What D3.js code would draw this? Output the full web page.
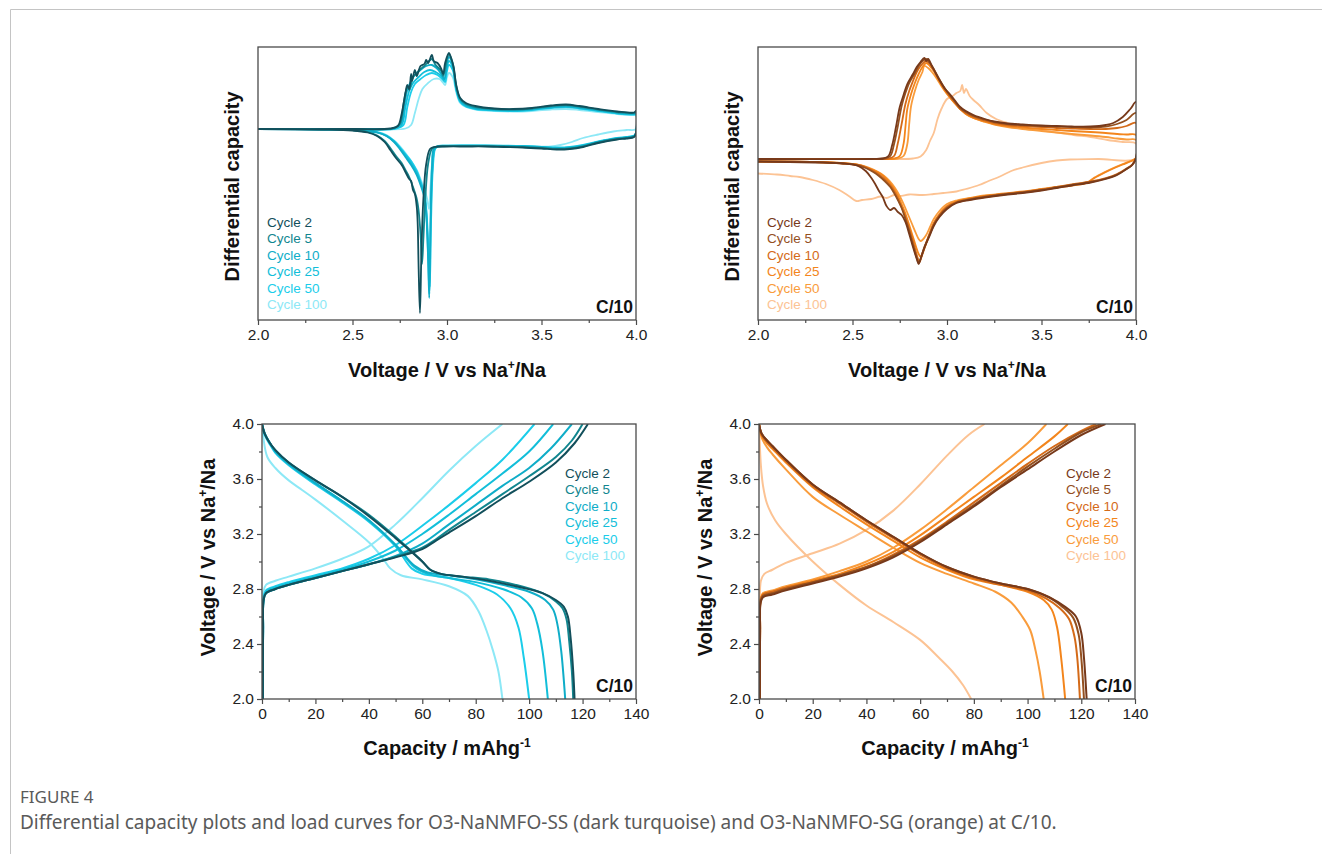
<html>
<head>
  <title>Figure 4</title>
  <script src="https://d3js.org/d3.v7.min.js"></script>
  <style type="text/css">
  body { margin: 0; background: #fff; }
  text { font-family: "Liberation Sans", Arial, sans-serif; }
  .caption { font-family: "Noto Sans", sans-serif; fill: #5a5a5a; }
  </style>
</head>
<body>
<div id="viz"></div>
<script type="text/javascript">

const cycles = ["Cycle 2", "Cycle 5", "Cycle 10", "Cycle 25", "Cycle 50", "Cycle 100"];
const ssColors = ["#124f5b", "#11868f", "#0fadc8", "#12bed9", "#1bcdea", "#8de8f6"];
const sgColors = ["#77391a", "#94501f", "#d46a18", "#f3851c", "#f99c3c", "#fcc394"];

const voltTicks = [2.0, 2.5, 3.0, 3.5, 4.0];
const voltMinor = [2.25, 2.75, 3.25, 3.75];
const capTicks = [0, 20, 40, 60, 80, 100, 120, 140];
const capMinor = [10, 30, 50, 70, 90, 110, 130];
const loadTicks = [2.0, 2.4, 2.8, 3.2, 3.6, 4.0];
const loadMinor = [2.2, 2.6, 3.0, 3.4, 3.8];

// dQ/dV, arbitrary units, [V, dQ/dV]
const ssDqCharge = [
  [[2.0,0],[2.5,0],[2.70,0.05],[2.74,0.3],[2.76,1.5],[2.78,3.6],[2.79,4.4],[2.80,4.0],[2.81,5.5],[2.815,4.8],[2.83,5.9],[2.84,5.3],[2.86,6.3],[2.88,6.5],[2.89,6.9],[2.90,6.6],[2.92,7.4],[2.93,6.8],[2.95,6.6],[2.97,6.0],[2.98,5.5],[2.99,6.6],[3.01,7.6],[3.02,7.2],[3.035,6.2],[3.05,4.3],[3.07,3.1],[3.10,2.6],[3.15,2.3],[3.25,2.05],[3.35,2.0],[3.45,2.1],[3.55,2.35],[3.63,2.45],[3.70,2.3],[3.80,2.0],[3.90,1.75],[3.99,1.65],[4.0,1.8]],
  [[2.0,0],[2.5,0],[2.71,0.05],[2.75,0.5],[2.77,2.5],[2.79,4.2],[2.80,3.9],[2.82,5.2],[2.84,5.6],[2.86,6.0],[2.88,6.3],[2.90,6.7],[2.92,7.0],[2.94,6.4],[2.97,5.8],[2.98,5.3],[3.00,7.0],[3.01,7.5],[3.03,6.6],[3.05,4.2],[3.07,3.0],[3.10,2.5],[3.15,2.2],[3.25,2.0],[3.35,1.95],[3.45,2.05],[3.55,2.3],[3.63,2.4],[3.70,2.25],[3.80,1.95],[3.90,1.7],[3.99,1.6],[4.0,1.7]],
  [[2.0,0],[2.5,0],[2.72,0.05],[2.755,0.5],[2.775,2.4],[2.79,3.9],[2.81,4.8],[2.83,5.4],[2.86,5.9],[2.89,6.3],[2.92,6.4],[2.95,6.0],[2.97,5.5],[2.985,5.0],[3.00,6.6],[3.01,7.2],[3.03,6.4],[3.05,4.0],[3.07,2.9],[3.10,2.4],[3.15,2.1],[3.25,1.95],[3.35,1.9],[3.45,2.0],[3.55,2.2],[3.63,2.3],[3.70,2.15],[3.80,1.9],[3.90,1.65],[3.99,1.55],[4.0,1.6]],
  [[2.0,0],[2.5,0],[2.72,0.05],[2.76,0.4],[2.78,2.2],[2.80,3.8],[2.82,4.6],[2.85,5.2],[2.88,5.7],[2.91,5.9],[2.94,5.7],[2.97,5.3],[2.985,4.9],[3.00,6.2],[3.01,6.8],[3.03,6.2],[3.05,3.9],[3.07,2.8],[3.10,2.3],[3.15,2.05],[3.25,1.9],[3.35,1.85],[3.45,1.95],[3.55,2.15],[3.63,2.25],[3.70,2.1],[3.80,1.85],[3.90,1.6],[3.99,1.5],[4.0,1.55]],
  [[2.0,0],[2.5,0],[2.73,0.05],[2.77,0.4],[2.79,2.2],[2.81,3.7],[2.83,4.5],[2.86,5.0],[2.89,5.4],[2.92,5.6],[2.95,5.4],[2.975,5.0],[2.99,4.7],[3.00,5.8],[3.01,6.4],[3.03,5.9],[3.05,3.8],[3.07,2.7],[3.10,2.25],[3.15,2.0],[3.25,1.85],[3.35,1.8],[3.45,1.9],[3.55,2.1],[3.63,2.2],[3.70,2.05],[3.80,1.8],[3.90,1.55],[3.99,1.45],[4.0,1.5]],
  [[2.0,0],[2.6,0],[2.78,0.05],[2.81,0.4],[2.83,1.6],[2.85,3.0],[2.87,4.0],[2.90,4.6],[2.93,5.0],[2.96,5.0],[2.98,4.6],[2.99,4.4],[3.00,5.2],[3.01,5.6],[3.03,5.2],[3.05,3.6],[3.07,2.6],[3.10,2.2],[3.15,1.95],[3.25,1.8],[3.35,1.75],[3.45,1.8],[3.55,1.95],[3.63,2.0],[3.70,1.9],[3.80,1.7],[3.90,1.5],[3.99,1.4],[4.0,1.4]]
];
const ssDqDischarge = [
  [[4.0,-0.4],[3.99,-0.8],[3.95,-0.95],[3.90,-1.05],[3.80,-1.4],[3.72,-1.8],[3.65,-2.0],[3.58,-2.05],[3.50,-1.95],[3.40,-1.85],[3.30,-1.8],[3.20,-1.75],[3.10,-1.75],[3.00,-1.75],[2.93,-1.8],[2.91,-2.0],[2.89,-3.5],[2.875,-7.0],[2.865,-12],[2.857,-18.4],[2.85,-14],[2.845,-9.5],[2.84,-7.8],[2.83,-6.5],[2.82,-6.1],[2.81,-5.2],[2.80,-5.0],[2.78,-4.3],[2.76,-3.6],[2.73,-2.9],[2.70,-2.1],[2.67,-1.3],[2.63,-0.7],[2.58,-0.35],[2.50,-0.15],[2.35,-0.05],[2.0,0]],
  [[4.0,-0.4],[3.99,-0.75],[3.95,-0.9],[3.90,-1.0],[3.80,-1.35],[3.72,-1.75],[3.65,-1.95],[3.58,-2.0],[3.50,-1.9],[3.40,-1.8],[3.30,-1.75],[3.20,-1.72],[3.10,-1.72],[3.00,-1.72],[2.94,-1.78],[2.92,-2.0],[2.90,-3.5],[2.885,-7],[2.875,-11],[2.868,-13.5],[2.86,-10.5],[2.85,-8.2],[2.84,-7.0],[2.82,-5.8],[2.80,-4.8],[2.78,-4.1],[2.76,-3.4],[2.73,-2.7],[2.70,-1.9],[2.67,-1.2],[2.63,-0.65],[2.58,-0.3],[2.50,-0.12],[2.35,-0.05],[2.0,0]],
  [[4.0,-0.4],[3.99,-0.7],[3.95,-0.85],[3.90,-0.95],[3.80,-1.3],[3.72,-1.7],[3.65,-1.9],[3.58,-1.95],[3.50,-1.85],[3.40,-1.75],[3.30,-1.7],[3.20,-1.68],[3.10,-1.68],[3.00,-1.7],[2.95,-1.75],[2.93,-2.0],[2.92,-4.0],[2.913,-9],[2.906,-16.9],[2.90,-13],[2.89,-8.5],[2.88,-6.8],[2.86,-5.6],[2.84,-4.6],[2.81,-3.6],[2.78,-2.8],[2.75,-2.0],[2.72,-1.3],[2.68,-0.7],[2.63,-0.35],[2.55,-0.15],[2.40,-0.05],[2.0,0]],
  [[4.0,-0.4],[3.99,-0.7],[3.95,-0.85],[3.90,-0.95],[3.80,-1.3],[3.72,-1.65],[3.65,-1.85],[3.58,-1.9],[3.50,-1.8],[3.40,-1.72],[3.30,-1.68],[3.20,-1.66],[3.10,-1.66],[3.00,-1.68],[2.95,-1.74],[2.935,-2.0],[2.923,-4.0],[2.914,-9],[2.907,-16.5],[2.90,-12.6],[2.89,-8.2],[2.88,-6.6],[2.86,-5.4],[2.84,-4.4],[2.81,-3.4],[2.78,-2.6],[2.75,-1.9],[2.72,-1.25],[2.68,-0.7],[2.63,-0.35],[2.55,-0.15],[2.40,-0.05],[2.0,0]],
  [[4.0,-0.4],[3.99,-0.65],[3.95,-0.8],[3.90,-0.9],[3.80,-1.25],[3.72,-1.6],[3.65,-1.8],[3.58,-1.85],[3.50,-1.78],[3.40,-1.7],[3.30,-1.66],[3.20,-1.64],[3.10,-1.64],[3.00,-1.66],[2.95,-1.72],[2.937,-2.0],[2.925,-4.0],[2.916,-9],[2.909,-15.8],[2.902,-12],[2.89,-7.9],[2.88,-6.4],[2.86,-5.2],[2.84,-4.2],[2.81,-3.2],[2.78,-2.5],[2.75,-1.8],[2.72,-1.2],[2.68,-0.65],[2.63,-0.3],[2.55,-0.12],[2.40,-0.04],[2.0,0]],
  [[4.0,0.0],[3.95,-0.1],[3.88,-0.25],[3.80,-0.55],[3.72,-0.9],[3.66,-1.3],[3.60,-1.6],[3.55,-1.75],[3.45,-1.75],[3.30,-1.7],[3.15,-1.65],[3.00,-1.65],[2.95,-1.7],[2.93,-2.0],[2.92,-3.6],[2.912,-6],[2.905,-8],[2.895,-7.0],[2.88,-6.0],[2.86,-5.0],[2.84,-4.1],[2.81,-3.2],[2.78,-2.4],[2.75,-1.7],[2.72,-1.15],[2.68,-0.6],[2.63,-0.3],[2.55,-0.12],[2.40,-0.04],[2.0,0]]
];

const sgDqCharge = [
  [[2.0,0],[2.6,0],[2.66,0.05],[2.69,0.3],[2.71,1.4],[2.73,3.2],[2.75,5.2],[2.77,6.4],[2.79,7.5],[2.82,8.5],[2.84,9.2],[2.86,9.7],[2.88,10.1],[2.89,9.8],[2.90,10.0],[2.92,9.3],[2.94,8.6],[2.96,7.9],[2.99,7.0],[3.01,6.6],[3.04,5.9],[3.07,5.2],[3.10,4.8],[3.14,4.4],[3.20,4.0],[3.25,3.75],[3.32,3.55],[3.40,3.45],[3.50,3.35],[3.58,3.3],[3.66,3.25],[3.76,3.25],[3.84,3.4],[3.88,3.6],[3.93,4.2],[3.97,5.0],[4.0,5.7]],
  [[2.0,0],[2.6,0],[2.67,0.05],[2.70,0.3],[2.72,1.5],[2.74,3.3],[2.76,5.3],[2.78,6.6],[2.80,7.6],[2.83,8.6],[2.85,9.3],[2.87,9.8],[2.89,10.0],[2.91,9.6],[2.93,9.0],[2.95,8.3],[2.98,7.3],[3.01,6.5],[3.04,5.8],[3.07,5.1],[3.10,4.7],[3.14,4.3],[3.20,3.95],[3.25,3.7],[3.32,3.5],[3.40,3.4],[3.50,3.3],[3.58,3.25],[3.66,3.2],[3.76,3.15],[3.84,3.25],[3.90,3.5],[3.95,3.9],[4.0,4.6]],
  [[2.0,0],[2.6,0],[2.69,0.05],[2.72,0.3],[2.74,1.6],[2.76,3.5],[2.78,5.5],[2.80,6.8],[2.82,7.8],[2.84,8.7],[2.86,9.3],[2.88,9.7],[2.89,9.8],[2.91,9.5],[2.93,8.9],[2.95,8.2],[2.98,7.2],[3.01,6.4],[3.04,5.7],[3.07,5.0],[3.10,4.6],[3.14,4.2],[3.20,3.85],[3.25,3.6],[3.32,3.4],[3.40,3.3],[3.50,3.2],[3.58,3.1],[3.66,3.05],[3.76,3.0],[3.84,3.0],[3.90,3.1],[3.95,3.3],[4.0,3.6]],
  [[2.0,0],[2.65,0],[2.72,0.05],[2.75,0.3],[2.77,1.5],[2.78,3.2],[2.79,5.0],[2.81,6.5],[2.83,7.6],[2.85,8.5],[2.87,9.2],[2.89,9.6],[2.91,9.3],[2.93,8.8],[2.95,8.1],[2.98,7.1],[3.01,6.3],[3.04,5.6],[3.07,5.0],[3.10,4.5],[3.14,4.1],[3.20,3.75],[3.25,3.5],[3.32,3.3],[3.40,3.15],[3.50,3.0],[3.58,2.9],[3.66,2.8],[3.76,2.7],[3.84,2.6],[3.90,2.5],[3.95,2.45],[4.0,2.4]],
  [[2.0,0],[2.65,0],[2.74,0.05],[2.77,0.3],[2.79,1.5],[2.80,3.5],[2.81,5.3],[2.83,6.8],[2.85,7.9],[2.87,8.7],[2.88,9.3],[2.90,9.1],[2.92,8.7],[2.94,8.2],[2.97,7.3],[3.00,6.5],[3.04,5.6],[3.07,5.0],[3.10,4.5],[3.14,4.1],[3.20,3.7],[3.25,3.45],[3.32,3.2],[3.40,3.0],[3.50,2.8],[3.58,2.65],[3.66,2.5],[3.76,2.35],[3.84,2.2],[3.90,2.05],[3.95,1.95],[4.0,1.9]],
  [[2.0,0],[2.7,0],[2.82,0.05],[2.86,0.25],[2.89,0.9],[2.91,1.8],[2.93,2.6],[2.95,4.0],[2.97,5.0],[3.00,6.0],[3.03,6.3],[3.05,6.6],[3.07,6.8],[3.08,7.4],[3.09,6.6],[3.10,7.0],[3.12,6.3],[3.14,5.9],[3.17,5.4],[3.21,4.6],[3.26,4.0],[3.32,3.6],[3.40,3.2],[3.49,2.9],[3.58,2.65],[3.67,2.4],[3.76,2.2],[3.85,1.9],[3.93,1.7],[4.0,1.55]]
];
const sgDqDischarge = [
  [[4.0,0.1],[3.98,-0.6],[3.95,-1.0],[3.90,-1.6],[3.84,-2.0],[3.76,-2.35],[3.66,-2.65],[3.58,-2.9],[3.50,-3.15],[3.40,-3.4],[3.30,-3.6],[3.20,-3.85],[3.12,-4.1],[3.05,-4.4],[3.00,-5.0],[2.96,-5.8],[2.93,-6.7],[2.91,-7.6],[2.88,-8.9],[2.86,-10.0],[2.85,-10.5],[2.84,-10.0],[2.82,-8.8],[2.80,-7.5],[2.78,-6.3],[2.76,-5.6],[2.74,-5.3],[2.72,-4.9],[2.70,-5.1],[2.68,-4.7],[2.66,-3.8],[2.64,-3.2],[2.62,-2.5],[2.60,-1.9],[2.57,-1.2],[2.53,-0.7],[2.45,-0.45],[2.30,-0.35],[2.0,-0.25]],
  [[4.0,0.1],[3.98,-0.6],[3.95,-1.0],[3.90,-1.55],[3.84,-1.95],[3.76,-2.3],[3.66,-2.6],[3.58,-2.85],[3.50,-3.1],[3.40,-3.35],[3.30,-3.55],[3.20,-3.8],[3.12,-4.05],[3.05,-4.35],[3.00,-4.9],[2.96,-5.7],[2.93,-6.6],[2.91,-7.5],[2.88,-8.8],[2.86,-10.0],[2.85,-10.4],[2.84,-9.9],[2.82,-8.6],[2.80,-7.2],[2.78,-6.0],[2.76,-4.9],[2.74,-4.1],[2.72,-3.4],[2.70,-2.8],[2.67,-2.2],[2.64,-1.7],[2.61,-1.3],[2.57,-0.9],[2.52,-0.6],[2.45,-0.45],[2.30,-0.3],[2.0,-0.25]],
  [[4.0,0.1],[3.98,-0.55],[3.95,-0.95],[3.90,-1.5],[3.84,-1.9],[3.76,-2.25],[3.66,-2.55],[3.58,-2.8],[3.50,-3.05],[3.40,-3.3],[3.30,-3.5],[3.20,-3.75],[3.12,-4.0],[3.05,-4.3],[3.00,-4.8],[2.96,-5.6],[2.93,-6.5],[2.91,-7.4],[2.885,-8.7],[2.865,-9.8],[2.855,-10.3],[2.845,-9.9],[2.83,-8.9],[2.81,-7.6],[2.79,-6.4],[2.77,-5.3],[2.75,-4.4],[2.73,-3.6],[2.71,-2.9],[2.68,-2.2],[2.65,-1.7],[2.62,-1.3],[2.58,-0.9],[2.53,-0.6],[2.45,-0.45],[2.30,-0.3],[2.0,-0.25]],
  [[4.0,0.1],[3.97,-0.25],[3.93,-0.55],[3.88,-0.95],[3.83,-1.4],[3.78,-1.9],[3.74,-2.4],[3.68,-2.6],[3.58,-2.85],[3.50,-3.05],[3.40,-3.3],[3.30,-3.5],[3.20,-3.7],[3.12,-3.95],[3.05,-4.25],[3.00,-4.7],[2.96,-5.5],[2.93,-6.4],[2.91,-7.3],[2.89,-8.4],[2.87,-9.4],[2.86,-9.8],[2.85,-9.5],[2.835,-8.7],[2.815,-7.5],[2.795,-6.3],[2.775,-5.2],[2.755,-4.3],[2.735,-3.5],[2.71,-2.7],[2.68,-2.0],[2.65,-1.5],[2.61,-1.1],[2.57,-0.8],[2.52,-0.55],[2.45,-0.42],[2.30,-0.3],[2.0,-0.25]],
  [[4.0,0.1],[3.97,-0.2],[3.93,-0.5],[3.88,-0.9],[3.83,-1.35],[3.78,-1.85],[3.74,-2.35],[3.68,-2.55],[3.58,-2.8],[3.50,-3.0],[3.40,-3.25],[3.30,-3.45],[3.20,-3.65],[3.12,-3.9],[3.05,-4.15],[3.00,-4.5],[2.96,-5.2],[2.93,-6.0],[2.91,-6.8],[2.89,-7.6],[2.87,-8.1],[2.86,-8.2],[2.85,-8.0],[2.835,-7.4],[2.815,-6.5],[2.795,-5.6],[2.775,-4.7],[2.755,-3.9],[2.735,-3.2],[2.71,-2.5],[2.68,-1.9],[2.65,-1.45],[2.61,-1.05],[2.57,-0.75],[2.52,-0.55],[2.45,-0.4],[2.30,-0.3],[2.0,-0.25]],
  [[4.0,0.05],[3.80,0.0],[3.65,-0.05],[3.58,-0.15],[3.50,-0.4],[3.40,-0.85],[3.34,-1.2],[3.28,-1.75],[3.22,-2.2],[3.17,-2.6],[3.10,-3.0],[3.05,-3.25],[2.98,-3.4],[2.93,-3.5],[2.87,-3.6],[2.80,-3.55],[2.75,-3.7],[2.72,-3.6],[2.68,-3.9],[2.65,-3.75],[2.60,-4.0],[2.55,-4.1],[2.52,-4.2],[2.48,-3.7],[2.43,-3.1],[2.36,-2.5],[2.29,-2.1],[2.22,-1.8],[2.17,-1.7],[2.10,-1.55],[2.0,-1.45]]
];

// load curves, [capacity mAh/g, V]
const ssLoadCharge = [
  [[0.3,2.0],[0.4,2.5],[0.6,2.72],[1.5,2.77],[5,2.80],[10,2.83],[20,2.88],[30,2.93],[40,2.98],[50,3.03],[60,3.09],[65,3.15],[70,3.21],[80,3.33],[90,3.46],[100,3.58],[110,3.72],[117,3.86],[122,4.0]],
  [[0.3,2.0],[0.4,2.5],[0.6,2.72],[1.5,2.77],[5,2.80],[10,2.83],[20,2.88],[30,2.93],[40,2.98],[50,3.035],[60,3.10],[65,3.16],[70,3.23],[80,3.36],[90,3.49],[100,3.62],[110,3.76],[116,3.88],[120,4.0]],
  [[0.3,2.0],[0.4,2.5],[0.6,2.72],[1.5,2.77],[5,2.80],[10,2.83],[20,2.88],[30,2.93],[40,2.98],[50,3.04],[60,3.13],[70,3.27],[80,3.41],[90,3.55],[100,3.68],[108,3.82],[116,4.0]],
  [[0.3,2.0],[0.4,2.5],[0.6,2.73],[1.5,2.78],[5,2.81],[10,2.84],[20,2.89],[30,2.94],[40,3.0],[50,3.08],[60,3.2],[70,3.34],[80,3.49],[90,3.64],[100,3.8],[109,4.0]],
  [[0.3,2.0],[0.4,2.5],[0.6,2.74],[1.5,2.79],[5,2.82],[10,2.85],[20,2.9],[30,2.95],[40,3.02],[50,3.12],[60,3.26],[70,3.41],[80,3.57],[90,3.74],[102,4.0]],
  [[0.3,2.0],[0.4,2.5],[0.6,2.78],[1.5,2.83],[5,2.86],[10,2.89],[20,2.95],[30,3.02],[40,3.11],[50,3.27],[60,3.46],[70,3.66],[80,3.84],[90,4.0]]
];
const ssLoadDischarge = [
  [[0,4.0],[1,3.93],[3,3.86],[5,3.81],[10,3.72],[20,3.59],[30,3.47],[40,3.33],[50,3.17],[60,3.0],[63,2.94],[67,2.91],[75,2.89],[85,2.86],[95,2.82],[105,2.77],[110,2.72],[113,2.67],[114.5,2.6],[115.5,2.45],[116.5,2.2],[117,2.0]],
  [[0,4.0],[1,3.93],[3,3.86],[5,3.81],[10,3.72],[20,3.59],[30,3.47],[40,3.34],[50,3.18],[60,3.0],[63,2.94],[67,2.91],[75,2.89],[85,2.87],[95,2.83],[105,2.77],[110,2.71],[112.5,2.66],[114,2.58],[115,2.42],[116,2.2],[116.5,2.0]],
  [[0,4.0],[1,3.93],[3,3.86],[5,3.80],[10,3.71],[20,3.57],[30,3.44],[40,3.30],[50,3.12],[57,2.97],[62,2.92],[70,2.9],[80,2.87],[90,2.83],[100,2.78],[106,2.72],[109,2.65],[110.5,2.55],[112,2.35],[113.5,2.0]],
  [[0,4.0],[1,3.93],[3,3.86],[5,3.80],[10,3.71],[20,3.57],[30,3.44],[40,3.30],[50,3.12],[57,2.96],[62,2.91],[70,2.88],[80,2.85],[90,2.8],[97,2.74],[101,2.66],[103,2.55],[105,2.35],[107,2.0]],
  [[0,4.0],[1,3.92],[3,3.85],[5,3.79],[10,3.70],[20,3.56],[30,3.43],[40,3.29],[50,3.11],[56,2.95],[60,2.91],[70,2.88],[80,2.83],[88,2.76],[93,2.66],[96,2.52],[98,2.3],[100,2.0]],
  [[0,4.0],[0.5,3.9],[2,3.76],[5,3.68],[10,3.59],[15,3.52],[20,3.45],[30,3.3],[40,3.14],[45,3.03],[48,2.95],[52,2.9],[60,2.87],[70,2.82],[77,2.75],[81,2.64],[84,2.5],[86.5,2.35],[88.5,2.2],[90,2.0]]
];

const sgLoadCharge = [
  [[0.3,2.0],[0.4,2.5],[0.6,2.7],[1.5,2.74],[5,2.76],[10,2.79],[20,2.84],[30,2.89],[40,2.95],[50,3.03],[60,3.14],[70,3.27],[80,3.4],[90,3.54],[100,3.67],[110,3.8],[120,3.92],[129,4.0]],
  [[0.3,2.0],[0.4,2.5],[0.6,2.71],[1.5,2.75],[5,2.77],[10,2.8],[20,2.85],[30,2.9],[40,2.96],[50,3.04],[60,3.15],[70,3.28],[80,3.41],[90,3.55],[100,3.69],[110,3.82],[120,3.94],[127.5,4.0]],
  [[0.3,2.0],[0.4,2.5],[0.6,2.72],[1.5,2.76],[5,2.78],[10,2.81],[20,2.85],[30,2.9],[40,2.96],[50,3.05],[60,3.16],[70,3.29],[80,3.43],[90,3.57],[100,3.71],[110,3.84],[120,3.95],[125.5,4.0]],
  [[0.3,2.0],[0.4,2.5],[0.6,2.72],[1.5,2.76],[5,2.78],[10,2.81],[20,2.86],[30,2.91],[40,2.98],[50,3.07],[60,3.19],[70,3.33],[80,3.47],[90,3.61],[100,3.76],[110,3.91],[115,4.0]],
  [[0.3,2.0],[0.4,2.5],[0.6,2.73],[1.5,2.77],[5,2.79],[10,2.82],[20,2.87],[30,2.93],[40,3.0],[50,3.1],[60,3.23],[70,3.38],[80,3.54],[90,3.7],[100,3.86],[107,4.0]],
  [[0.3,2.0],[0.4,2.6],[0.7,2.86],[2,2.91],[5,2.94],[10,2.99],[20,3.06],[30,3.13],[40,3.23],[50,3.37],[60,3.56],[70,3.77],[78,3.92],[84,4.0]]
];
const sgLoadDischarge = [
  [[0,4.0],[1,3.93],[3,3.88],[5,3.84],[10,3.74],[20,3.56],[30,3.43],[40,3.30],[50,3.18],[60,3.06],[70,2.96],[80,2.89],[90,2.84],[100,2.80],[108,2.74],[114,2.67],[118,2.6],[120,2.48],[121,2.3],[122,2.0]],
  [[0,4.0],[1,3.93],[3,3.88],[5,3.84],[10,3.74],[20,3.56],[30,3.43],[40,3.3],[50,3.18],[60,3.06],[70,2.96],[80,2.89],[90,2.84],[100,2.8],[108,2.74],[113,2.67],[117,2.59],[119,2.47],[120,2.3],[121,2.0]],
  [[0,4.0],[1,3.92],[3,3.87],[5,3.83],[10,3.73],[20,3.55],[30,3.42],[40,3.29],[50,3.17],[60,3.05],[70,2.95],[80,2.88],[90,2.83],[100,2.79],[107,2.73],[112,2.66],[115.5,2.58],[117.5,2.45],[118.5,2.3],[119.5,2.0]],
  [[0,4.0],[1,3.92],[3,3.86],[5,3.82],[10,3.72],[20,3.54],[30,3.4],[40,3.27],[50,3.15],[60,3.03],[70,2.94],[80,2.87],[90,2.83],[100,2.78],[106,2.72],[109,2.65],[111,2.52],[112.5,2.3],[114,2.0]],
  [[0,4.0],[1,3.9],[3,3.83],[5,3.78],[10,3.67],[20,3.47],[30,3.34],[40,3.22],[50,3.1],[60,2.99],[70,2.91],[80,2.84],[88,2.78],[94,2.7],[98,2.6],[101,2.5],[103,2.35],[104.5,2.2],[106,2.0]],
  [[0,4.0],[0.3,3.85],[0.7,3.7],[1.5,3.55],[3,3.42],[6,3.3],[10,3.2],[20,3.0],[30,2.83],[40,2.68],[50,2.56],[60,2.43],[67,2.3],[72,2.2],[76,2.1],[79,2.0]]
];

const W = 1322, H = 854;

let svg = d3.select("#viz").append("svg")
  .attr("width", W)
  .attr("height", H);

// page frame
svg.append("path")
  .attr("d", `M10.5,${H} V9.5 H${W}`)
  .attr("fill", "none")
  .attr("stroke", "#c4c4c4")
  .attr("stroke-width", 1);

function addTitle(el, parts) {
  parts.forEach(part => {
    let t = el.append("tspan").text(part[0]);
    if (part[1]) t.attr("font-size", 12).attr("dy", -8);
    else if (part[2]) t.attr("dy", 8);
  });
}

function drawPanel(p) {
  let g = svg.append("g");
  let x = d3.scaleLinear().domain(p.xDomain).range([p.left, p.right]);
  let y = d3.scaleLinear().domain(p.yDomain).range([p.bottom, p.top]);

  let clipId = "clip" + p.id;
  svg.append("clipPath").attr("id", clipId)
    .append("rect")
    .attr("x", p.left).attr("y", p.top)
    .attr("width", p.right - p.left).attr("height", p.bottom - p.top);

  let line = d3.line()
    .x(d => x(d[0]))
    .y(d => y(d[1]))
    .curve(d3.curveCatmullRom.alpha(0.5));

  let curves = g.append("g").attr("clip-path", `url(#${clipId})`);
  for (let i = cycles.length - 1; i >= 0; i--) {
    let paths = p.joined ? [p.charge[i].concat(p.discharge[i])] : [p.charge[i], p.discharge[i]];
    paths.forEach(pts => {
      curves.append("path")
        .attr("d", line(pts))
        .attr("fill", "none")
        .attr("stroke", p.colors[i])
        .attr("stroke-width", p.width)
        .attr("stroke-linejoin", "round");
    });
  }

  // frame
  g.append("rect")
    .attr("x", p.left).attr("y", p.top)
    .attr("width", p.right - p.left).attr("height", p.bottom - p.top)
    .attr("fill", "none")
    .attr("stroke", "#4a4a4a")
    .attr("stroke-width", 1.3);

  g.append("g")
    .attr("transform", `translate(0,${p.bottom})`)
    .call(d3.axisBottom(x).tickValues(p.xTicks).tickSize(5).tickPadding(4).tickFormat(p.xFormat));
  g.append("g")
    .attr("transform", `translate(0,${p.bottom})`)
    .call(d3.axisBottom(x).tickValues(p.xMinor).tickSize(3).tickFormat(""));

  if (p.yTicks) {
    g.append("g")
      .attr("transform", `translate(${p.left},0)`)
      .call(d3.axisLeft(y).tickValues(p.yTicks).tickSize(5).tickPadding(3).tickFormat(d3.format(".1f")));
    g.append("g")
      .attr("transform", `translate(${p.left},0)`)
      .call(d3.axisLeft(y).tickValues(p.yMinor).tickSize(3).tickFormat(""));
  }

  g.selectAll(".domain").remove();
  g.selectAll(".tick line").attr("stroke", "#4a4a4a").attr("stroke-width", 1.2);
  g.selectAll(".tick text")
    .attr("font-family", "'Liberation Sans', Arial, sans-serif")
    .attr("font-size", 15.5)
    .attr("fill", "#222");

  // axis titles
  let xt = g.append("text")
    .attr("x", (p.left + p.right) / 2 + p.xTitleShift)
    .attr("y", p.bottom + p.xTitleGap)
    .attr("text-anchor", "middle")
    .attr("font-size", 20)
    .attr("font-weight", "bold")
    .attr("fill", "#111");
  addTitle(xt, p.xTitle);

  let yt = g.append("text")
    .attr("transform", `translate(${p.left - p.yTitleGap},${(p.top + p.bottom) / 2 + p.yTitleShift}) rotate(-90)`)
    .attr("text-anchor", "middle")
    .attr("font-size", 20)
    .attr("font-weight", "bold")
    .attr("fill", "#111");
  addTitle(yt, p.yTitle);

  // legend
  g.selectAll(".legend")
    .data(cycles)
    .enter().append("text")
    .attr("x", p.legendX)
    .attr("y", (d, i) => p.legendY + i * 16.4)
    .attr("font-size", 13.5)
    .attr("fill", (d, i) => p.colors[i])
    .text(d => d);

  g.append("text")
    .attr("x", p.right - 3)
    .attr("y", p.bottom - 7)
    .attr("text-anchor", "end")
    .attr("font-size", 17.5)
    .attr("font-weight", "bold")
    .attr("fill", "#111")
    .text("C/10");
}

const voltTitle = [["Voltage / V vs Na"], ["+", true], ["/Na", false, true]];
const capTitle = [["Capacity / mAhg"], ["-1", true]];

drawPanel({ id: 1, left: 258, right: 636, top: 47, bottom: 320,
  xDomain: [2.0, 4.0], yDomain: [-19.1, 8.2], xTicks: voltTicks, xMinor: voltMinor, xFormat: d3.format(".1f"),
  charge: ssDqCharge, discharge: ssDqDischarge, joined: true, colors: ssColors, width: 1.8,
  xTitle: voltTitle, xTitleGap: 57, xTitleShift: 0, yTitle: [["Differential capacity"]], yTitleGap: 19, yTitleShift: 3,
  legendX: 267, legendY: 227 });

drawPanel({ id: 2, left: 758, right: 1136, top: 47, bottom: 320,
  xDomain: [2.0, 4.0], yDomain: [-16.1, 11.2], xTicks: voltTicks, xMinor: voltMinor, xFormat: d3.format(".1f"),
  charge: sgDqCharge, discharge: sgDqDischarge, joined: true, colors: sgColors, width: 1.8,
  xTitle: voltTitle, xTitleGap: 57, xTitleShift: 0, yTitle: [["Differential capacity"]], yTitleGap: 19, yTitleShift: 3,
  legendX: 767, legendY: 227 });

drawPanel({ id: 3, left: 262, right: 636, top: 424, bottom: 699,
  xDomain: [0, 140], yDomain: [2.0, 4.0], xTicks: capTicks, xMinor: capMinor, xFormat: d3.format("d"),
  yTicks: loadTicks, yMinor: loadMinor,
  charge: ssLoadCharge, discharge: ssLoadDischarge, joined: false, colors: ssColors, width: 2,
  xTitle: capTitle, xTitleGap: 56, xTitleShift: -2, yTitle: voltTitle, yTitleGap: 47, yTitleShift: -4,
  legendX: 565, legendY: 478 });

drawPanel({ id: 4, left: 759, right: 1135, top: 424, bottom: 699,
  xDomain: [0, 140], yDomain: [2.0, 4.0], xTicks: capTicks, xMinor: capMinor, xFormat: d3.format("d"),
  yTicks: loadTicks, yMinor: loadMinor,
  charge: sgLoadCharge, discharge: sgLoadDischarge, joined: false, colors: sgColors, width: 2,
  xTitle: capTitle, xTitleGap: 56, xTitleShift: -2, yTitle: voltTitle, yTitleGap: 47, yTitleShift: -4,
  legendX: 1066, legendY: 478 });

// caption
svg.append("text")
  .attr("class", "caption")
  .attr("x", 20)
  .attr("y", 803)
  .attr("font-size", 17)
  .text("FIGURE 4");

svg.append("text")
  .attr("class", "caption")
  .attr("x", 20)
  .attr("y", 829)
  .attr("font-size", 19)
  .text("Differential capacity plots and load curves for O3-NaNMFO-SS (dark turquoise) and O3-NaNMFO-SG (orange) at C/10.");

</script>
</body>
</html>
